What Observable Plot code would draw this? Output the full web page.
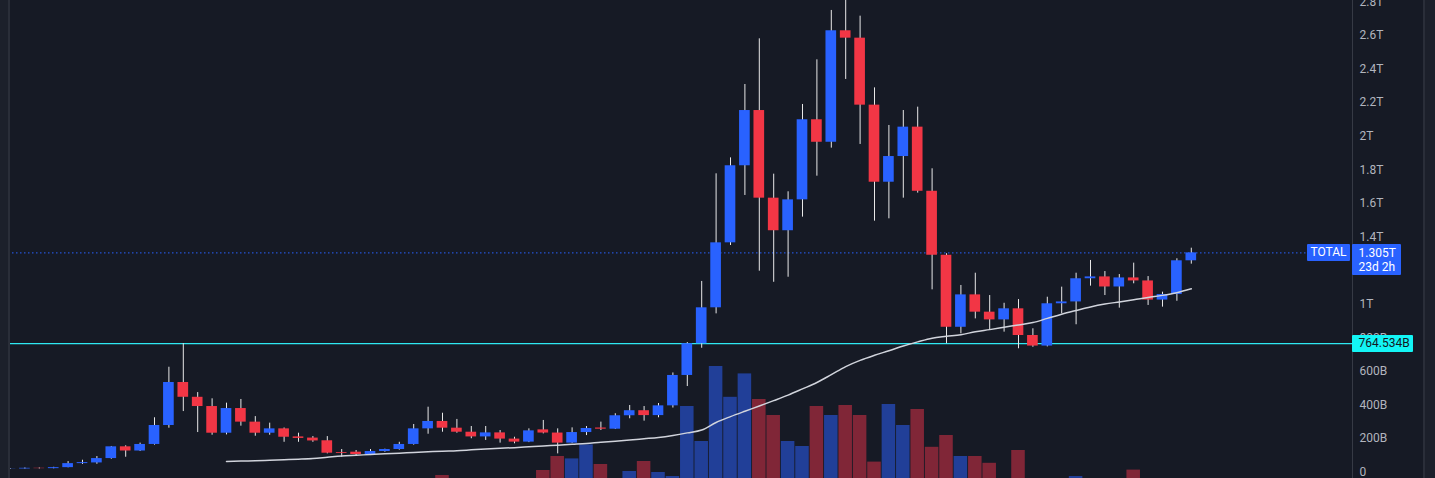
<!DOCTYPE html>
<html><head><meta charset="utf-8">
<script src="https://cdn.jsdelivr.net/npm/d3@7"></script>
<script src="https://cdn.jsdelivr.net/npm/@observablehq/plot@0.6"></script>
<style>
html,body{margin:0;padding:0;background:#161a25;overflow:hidden;}
#wrap{position:relative;width:1435px;height:478px;overflow:hidden;background:#161a25;font-family:Roboto,"Open Sans",sans-serif;}
#wrap svg{position:absolute;left:0;top:0;}
.deco{position:absolute;}
.lbl{position:absolute;font-size:12px;line-height:16px;white-space:nowrap;box-sizing:border-box;}
</style></head><body><div id="wrap"></div>
<script>
// Monthly candles, Jan 2017 .. Nov 2023 (values in billions USD)
const months = d3.utcMonth.range(new Date(Date.UTC(2017,0,1)), new Date(Date.UTC(2023,11,1))).map(d3.utcFormat("%Y-%m"));
const openV  = [17,18,22,20,26,50,54,80,150,125,164,277,533,445,390,231,378,297,231,257,209,202,186,116,118,101,122,134,164,257,301,261,237,209,233,196,178,251,232,172,235,262,255,335,365,336,394,575,764,978,1365,1824,2153,1631,1437,1621,2098,1964,2628,2584,2185,1726,1879,2054,1672,1291,862,1055,952,906,972,813,750,1002,1013,1151,1162,1102,1156,1138,1024,1057,1258];
const highV  = [19,24,24,28,62,70,92,152,156,172,323,624,764.534,473,436,410,432,330,291,262,231,211,211,134,128,134,136,177,283,386,350,313,271,271,247,207,257,307,257,263,271,297,347,396,390,408,590,771,1135,1776,1871,2308,2580,1774,1669,2189,2455,2749,2900,2715,2288,2064,2153,2173,1806,1300,1111,1184,1051,1005,1027,853,1041,1101,1184,1260,1194,1176,1244,1164,1071,1270,1333];
const lowV   = [16,17,18,19,25,45,46,76,88,122,160,261,360,235,219,221,273,213,219,177,177,177,108,88,98,98,118,130,160,225,237,231,198,188,172,168,175,227,108,170,217,247,253,317,303,323,381,509,737,942,1349,1647,1196,1130,1160,1518,1762,1929,2338,1951,1494,1508,1631,1661,1085,764,823,912,847,833,734,743,745,942,877,1107,1051,976,1121,992,982,1017,1238];
const closeV = [18,22,20,26,50,56,80,150,125,164,277,533,445,390,231,378,297,231,257,207,200,185,112,111,104,122,134,164,257,301,261,237,209,233,196,178,245,232,172,235,259,255,335,365,336,394,575,764,978,1365,1824,2153,1631,1437,1621,2098,1964,2628,2584,2185,1726,1879,2054,1672,1291,862,1055,952,906,972,813,750,1002,1013,1151,1162,1102,1156,1138,1024,1057,1258,1305];
// Volume (arbitrary units)
const volumeV = [0,0,0,0,0,0,0,0,0,0,0,0,0,0,0,0,0,0,0,0,0,0,0,0,0,0,0,0,0,0,15,0,0,0,0,0,0,40,110,98,168,70,0,35,85,30,10,360,185,560,406,523,395,315,185,160,360,315,365,315,82,370,265,345,156,215,110,110,76,0,140,0,0,0,10,0,0,0,42,0,0,0,0];
// Moving average line, starting at candle 15 (Apr 2018)
const maStart = 15;
const maV = [62,65,67,70,73,76,80,88,96,100,104,108,112,116,120,124,127,132,137,141,145,150,155,160,165,170,177,183,190,198,206,218,233,250,295,330,362,393,425,458,495,533,580,628,665,695,722,750,775,797,808,818,835,848,862,876,890,915,940,962,983,1000,1013,1026,1040,1052,1068,1091];
// 1.2T tick is hidden under the price label in the reference
const yTicks = [0,200,400,600,800,1000,1400,1600,1800,2000,2200,2400,2600,2800];
const hLevel = 764.534;
const lastPrice = 1305;

const rows = months.map((m,i)=>({i, m, o:openV[i], h:highV[i], l:lowV[i], c:closeV[i], v:volumeV[i], up: closeV[i] >= openV[i]}));
const maRows = maV.map((v,k)=>({i:maStart+k, v}));
const up = rows.filter(d=>d.up), dn = rows.filter(d=>!d.up);
const fmt = v => v===0 ? "0" : (v<1000 ? v+"B" : (v/1000)+"T");

const W=1435, H=478, MR=83;
const xOpt = {type:"linear", domain:[0,82], range:[10,1190.8], axis:null};
const BLUE="#2962ff", RED="#f23645";

const vol = Plot.plot({
  width:W, height:H, marginTop:0, marginBottom:0, marginLeft:0, marginRight:MR,
  style:{background:"transparent"},
  x: xOpt,
  y: {domain:[0,600], range:[478,358], axis:null},
  marks:[
    Plot.rect(up.filter(d=>d.v>0), {x1:d=>d.i-0.47, x2:d=>d.i+0.47, y1:0, y2:"v", fill:"#213f98"}),
    Plot.rect(dn.filter(d=>d.v>0), {x1:d=>d.i-0.47, x2:d=>d.i+0.47, y1:0, y2:"v", fill:"#802637"})
  ]
});

const price = Plot.plot({
  width:W, height:H, marginTop:0, marginBottom:0, marginLeft:0, marginRight:MR,
  style:{background:"transparent", color:"#b2b5be", fontSize:"12px", fontFamily:"Roboto, 'Open Sans', sans-serif"},
  x: xOpt,
  y: {domain:[0,2800], range:[471.5,1.4]},
  marks:[
    Plot.ruleY([hLevel], {stroke:"#2ee8f2", strokeWidth:1.4}),
    Plot.ruleY([lastPrice], {stroke:BLUE, strokeDasharray:"1.5,2.5", strokeWidth:1}),
    Plot.ruleX(rows, {x:"i", y1:"l", y2:"h", stroke:"#e8e8e8", strokeWidth:1}),
    Plot.rect(up, {x1:d=>d.i-0.37, x2:d=>d.i+0.37, y1:"o", y2:"c", fill:BLUE}),
    Plot.rect(dn, {x1:d=>d.i-0.37, x2:d=>d.i+0.37, y1:"o", y2:"c", fill:RED}),
    Plot.line(maRows, {x:"i", y:"v", stroke:"#d1d4dc", strokeWidth:1.5, curve:"monotone-x"}),
    Plot.axisY({anchor:"right", ticks:yTicks, tickSize:0, tickPadding:7, tickFormat:fmt, label:null})
  ]
});

const wrap = document.getElementById("wrap");
wrap.appendChild(vol);
wrap.appendChild(price);
const ys = price.scale("y");
function deco(l,t,w,h,bg){const d=document.createElement("div");d.className="deco";Object.assign(d.style,{left:l+"px",top:t+"px",width:w+"px",height:h+"px",background:bg});wrap.appendChild(d);return d;}
// panel borders and price axis line
deco(0,0,8,H,"#1c202b");
deco(8,0,2,H,"#2a2e39");
deco(W-MR,0,1,H,"#363a45");
deco(1423,0,2,H,"#2a2e39");
deco(1425,0,10,H,"#1c202b");
function label(text,l,t,w,h,bg,col,align,pad){const d=document.createElement("div");d.className="lbl";d.innerHTML=text;Object.assign(d.style,{left:l+"px",top:t+"px",width:w+"px",height:h+"px",background:bg,color:col,textAlign:align,paddingLeft:(pad||0)+"px",borderRadius:"1px"});wrap.appendChild(d);return d;}
const yp = ys.apply(lastPrice), yh = ys.apply(hLevel);
label("TOTAL", 1307, yp-8.5, 43, 17, BLUE, "#ffffff", "center", 0).style.lineHeight="17px";
const pb = label("1.305T<br>23d 2h", 1351.5, yp-8.5, 49, 31, BLUE, "#ffffff", "left", 7);
pb.style.lineHeight="14px"; pb.style.paddingTop="2px";
label("764.534B", 1351.5, yh-8.5, 61, 17, "#13f5f5", "#131722", "left", 7).style.lineHeight="17px";
</script></body></html>
